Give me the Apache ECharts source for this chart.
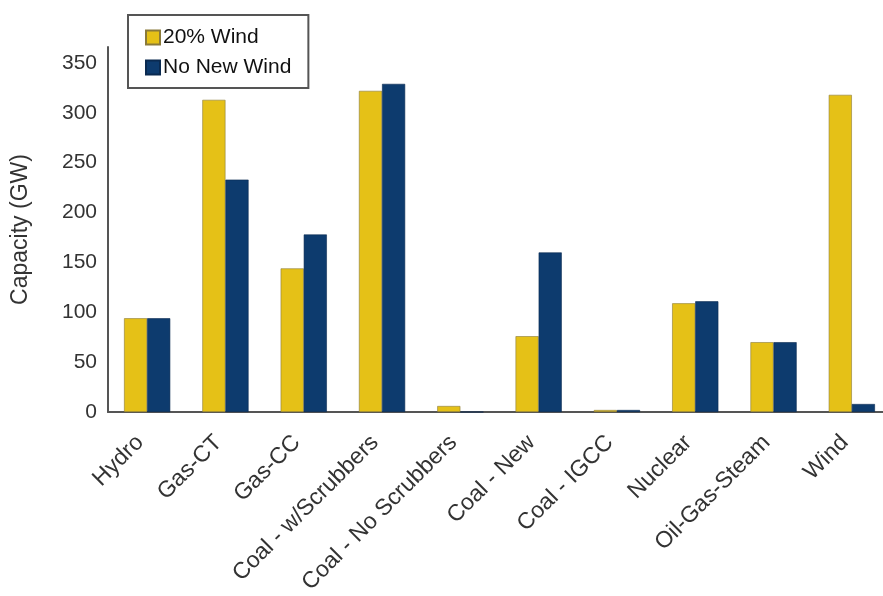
<!DOCTYPE html>
<html>
<head>
<meta charset="utf-8">
<script src="https://cdn.jsdelivr.net/npm/echarts@6/dist/echarts.min.js"></script>
<style>
  html, body { margin: 0; padding: 0; background: #fff; }
  #chart { width: 883px; height: 596px; }
</style>
</head>
<body>
<div id="chart"></div>
<script>
// data
const categories = ["Hydro", "Gas-CT", "Gas-CC", "Coal - w/Scrubbers", "Coal - No Scrubbers",
  "Coal - New", "Coal - IGCC", "Nuclear", "Oil-Gas-Steam", "Wind"];
const wind20 = [94, 313, 144, 322, 6, 76, 2, 109, 70, 318];
const noNewWind = [94, 233, 178, 329, 0, 160, 2, 111, 70, 8];

const textColor = "#333";
const font = "Arial, 'Liberation Sans', sans-serif";

let myChart = echarts.init(document.getElementById("chart"));
myChart.setOption({
  animation: false,
  textStyle: { fontFamily: font },
  legend: {
    orient: "vertical",
    left: 128,
    top: 15,
    padding: [12, 17, 10, 17],
    itemGap: 9,
    itemWidth: 14,
    itemHeight: 14,
    borderColor: "#555",
    borderWidth: 2,
    icon: "rect",
    textStyle: { fontSize: 21, color: "#111", padding: [0, 0, 0, -2] },
    data: ["20% Wind", "No New Wind"]
  },
  grid: { left: 108, top: 47, right: -8, bottom: 184, outerBoundsMode: "none" },
  xAxis: {
    type: "category",
    data: categories,
    axisLine: { lineStyle: { color: "#555", width: 2 } },
    axisTick: { show: false },
    axisLabel: {
      rotate: 45,
      interval: 0,
      margin: 20,
      fontSize: 23,
      color: textColor,
      padding: [0, 10, 0, 0]
    }
  },
  yAxis: {
    type: "value",
    min: 0,
    max: 366,
    interval: 50,
    name: "Capacity (GW)",
    nameLocation: "middle",
    nameGap: 76,
    nameTextStyle: { fontSize: 23, color: textColor },
    axisLine: { show: true, lineStyle: { color: "#555", width: 2 } },
    axisTick: { show: false },
    splitLine: { show: false },
    axisLabel: { fontSize: 21, color: textColor, margin: 11, showMaxLabel: false }
  },
  series: [
    {
      name: "20% Wind",
      type: "bar",
      data: wind20,
      barGap: "0%",
      barCategoryGap: "41%",
      itemStyle: { color: "#E5C117", borderColor: "#8a7a3a", borderWidth: 0.6 }
    },
    {
      name: "No New Wind",
      type: "bar",
      data: noNewWind,
      itemStyle: { color: "#0D3B6E", borderColor: "#0a2a50", borderWidth: 0.6 }
    }
  ]
});
</script>
</body>
</html>
